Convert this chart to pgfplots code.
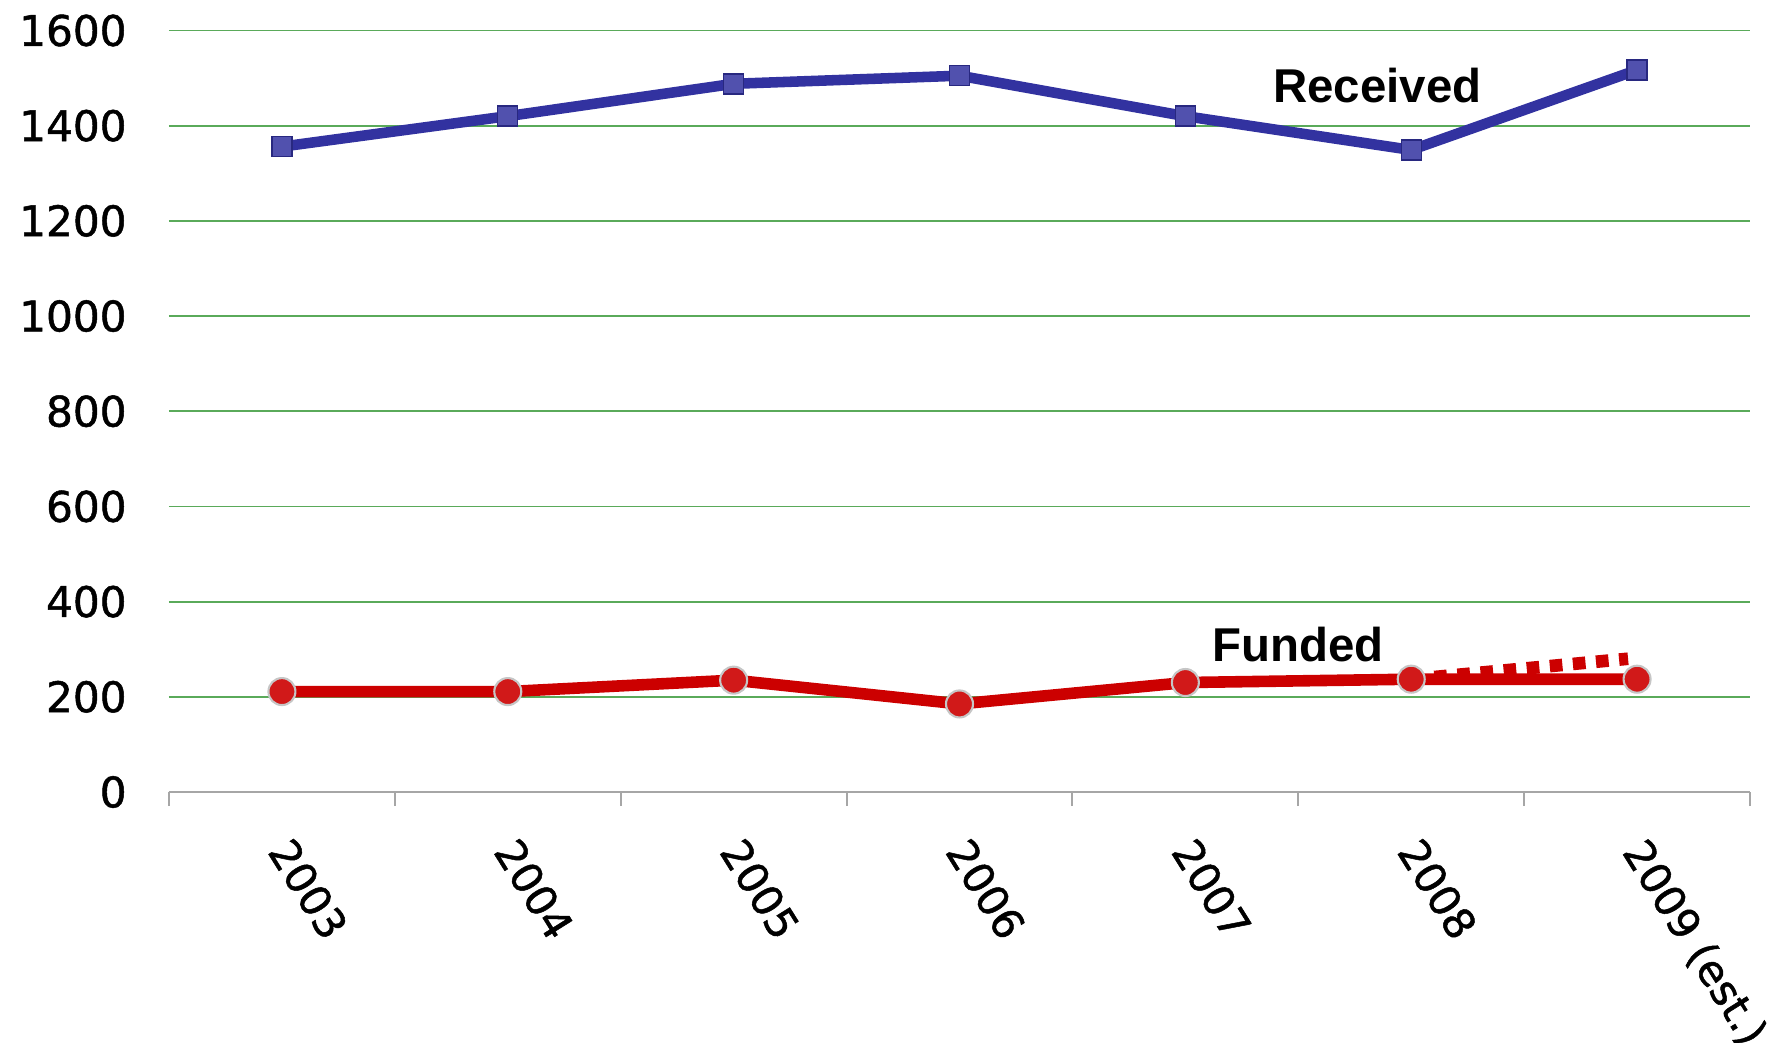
\documentclass[border=0pt]{standalone}
\usepackage{fontspec}
\setmainfont{DejaVu Sans}
\newfontfamily\tickfont{DejaVu Sans}[FakeBold=1.2]
\newfontfamily\labfont{Liberation Sans}
\usepackage{pgfplots}
\pgfplotsset{compat=1.18}
\definecolor{recblue}{RGB}{50,50,160}
\definecolor{funred}{RGB}{204,0,0}
\definecolor{gridgreen}{RGB}{90,170,90}
\begin{document}
\begin{tikzpicture}
\begin{axis}[
  scale only axis, width=15.81cm, height=7.615cm,
  xmin=-0.5, xmax=6.5, ymin=0, ymax=1600,
  axis x line*=bottom, axis y line*=left,
  y axis line style={draw=none},
  x axis line style={gray!70, line width=0.6pt},
  xtick={-0.5,0.5,...,6.5},
  x tick label as interval=true,
  xticklabels={2003,2004,2005,2006,2007,2008,2009 (est.)},
  xtick style={gray!70, line width=0.6pt},
  ytick={0,200,...,1600},
  ytick style={draw=none},
  tick align=outside, major tick length=1.4mm,
  ymajorgrids, grid style={gridgreen, line width=0.5pt},
  /pgf/number format/assume math mode=true,
  /pgf/number format/1000 sep={},
  tick label style={font=\tickfont\fontsize{12}{14}\selectfont},
  yticklabel style={xshift=-1.6mm},
  xticklabel style={xshift=1.55mm, yshift=-1.2mm, rotate=-58, anchor=north west},
  clip=false,
]
\coordinate (bl) at (rel axis cs:0,0);
\coordinate (tr) at (rel axis cs:1,1);
\addplot[recblue, line width=3pt, mark=square*, mark size=1.0mm,
  mark options={fill=recblue!85!white, draw=recblue!80!black, line width=0.4pt}]
  coordinates {(0,1356) (1,1420) (2,1488) (3,1505) (4,1420) (5,1349) (6,1517)};
\addplot[funred, line width=3.6pt, dash pattern=on 3.6pt off 3pt]
  coordinates {(5,237) (5.96,280)};
\addplot[funred, line width=3.3pt, mark=*, mark size=1.35mm,
  mark options={fill=funred!90!white, draw=gray!45, line width=0.6pt}]
  coordinates {(0,211) (1,211) (2,235) (3,185) (4,230) (5,237) (6,237)};
\node[font=\labfont\bfseries\fontsize{13.5}{15}\selectfont] at (axis cs:4.85,1485) {Received};
\node[font=\labfont\bfseries\fontsize{13.5}{15}\selectfont] at (axis cs:4.5,309) {Funded};
\end{axis}
\pgfresetboundingbox
\path ([xshift=-16.9mm, yshift=-25mm]bl) rectangle ([xshift=2mm, yshift=3.05mm]tr);
\end{tikzpicture}
\end{document}
